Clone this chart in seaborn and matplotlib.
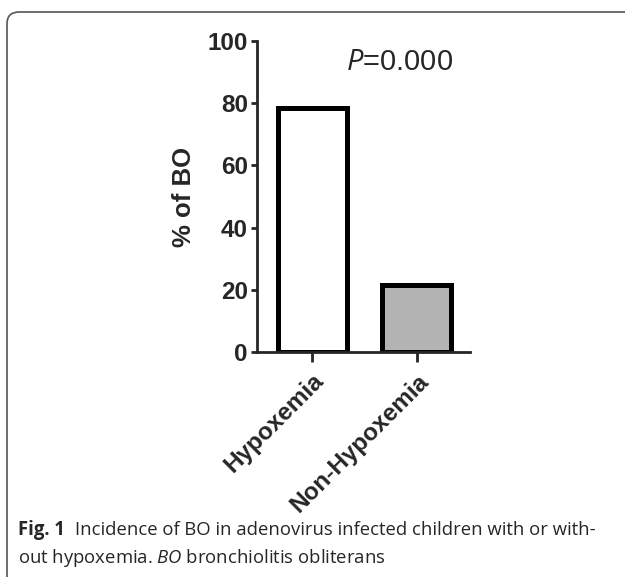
import matplotlib
matplotlib.use("Agg")
import matplotlib.pyplot as plt
import seaborn as sns
from matplotlib import font_manager
from matplotlib.patches import FancyBboxPatch

groups = ["Hypoxemia", "Non-Hypoxemia"]
pct_bo = [78.6, 21.4]
bar_colors = ["#ffffff", "#b3b3b3"]
y_ticks = [0, 20, 40, 60, 80, 100]
p_text = "=0.000"
cap_lead = "Fig. 1"
cap_line1 = "Incidence of BO in adenovirus infected children with or with-"
cap_line2 = "out hypoxemia. $\\mathit{BO}$ bronchiolitis obliterans"

sns.set_style("ticks")
plt.rcParams["font.family"] = ["Liberation Sans", "DejaVu Sans"]
plt.rcParams["mathtext.fontset"] = "custom"
plt.rcParams["mathtext.it"] = "Liberation Sans:italic"
plt.rcParams["mathtext.rm"] = "Liberation Sans"

fig = plt.figure(figsize=(6.25, 5.77), dpi=100)
ax = fig.add_axes([257 / 625, 1 - 352 / 577, 213 / 625, 311 / 577])

sns.barplot(x=groups, y=pct_bo, hue=groups, palette=bar_colors, width=0.66,
            edgecolor="black", linewidth=3.6, legend=False, ax=ax)

ax.set_xlim(-0.526, 1.51)
ax.set_ylim(0, 100)
ax.set_yticks(y_ticks)
sns.despine(ax=ax)
for s in ["left", "bottom"]:
    ax.spines[s].set_linewidth(2)
ax.tick_params(axis="y", length=4.5, width=2, pad=2, labelsize=17.5)
ax.tick_params(axis="x", length=7.5, width=2, pad=5, labelsize=17.5)
for lab in ax.get_yticklabels():
    lab.set_fontweight("bold")
ax.set_xticks(range(len(groups)))
ax.set_xticklabels(groups, rotation=45, ha="right", rotation_mode="anchor",
                   fontweight="bold")
ax.set_xlabel("")
ax.set_ylabel("% of BO", fontsize=18.5, fontweight="bold", labelpad=8)

ax.text(0.32, 90.7, "$P$" + p_text, fontsize=21, ha="left", va="baseline")

# caption font: a narrow family if there is one
names = {f.name for f in font_manager.fontManager.ttflist}
cap_font = "Open Sans"
for cand in ["Liberation Sans Narrow", "Open Sans", "Noto Sans"]:
    if cand in names:
        cap_font = cand
        break
plt.rcParams["mathtext.it"] = cap_font + ":italic"

r = fig.canvas.get_renderer()
base = 15
y1 = 1 - 535 / 577
t0 = fig.text(18 / 625, y1, cap_lead, fontsize=base, fontweight="bold",
              family=cap_font, ha="left", va="baseline")
t1 = fig.text(0, y1, cap_line1, fontsize=base,
              family=cap_font, ha="left", va="baseline")
w0 = t0.get_window_extent(r).width
w1 = t1.get_window_extent(r).width
fs = base * (579 - 10) / (w0 + w1)
t0.set_fontsize(fs)
t1.set_fontsize(fs)
w0 = t0.get_window_extent(r).width
t1.set_x((18 + w0 + 10) / 625)
fig.text(18 / 625, 1 - 563 / 577, cap_line2, fontsize=fs,
         family=cap_font, ha="left", va="baseline")

box = FancyBboxPatch((7 / 625, -0.2), 1.2, 1 - 12 / 577 + 0.2,
                     boxstyle="round,pad=0,rounding_size=0.02",
                     transform=fig.transFigure, fill=False,
                     edgecolor="#555555", linewidth=1.2, clip_on=False)
fig.patches.append(box)

fig.savefig("out.png", dpi=100)
